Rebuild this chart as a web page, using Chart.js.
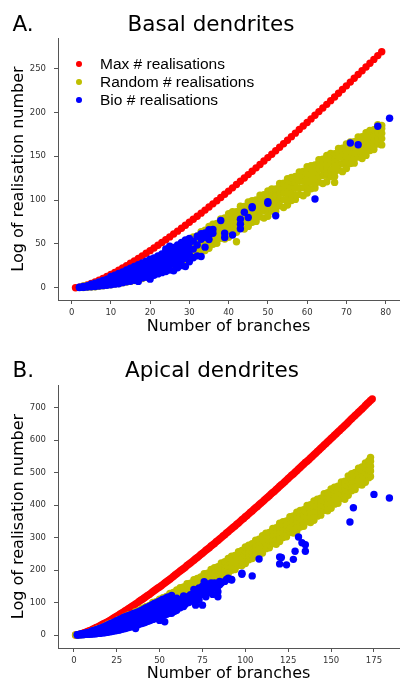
<!DOCTYPE html>
<html>
<head>
<meta charset="utf-8">
<title>Basal and apical dendrites</title>
<script src="https://cdn.jsdelivr.net/npm/chart.js@4.4.0/dist/chart.umd.min.js"></script>
<style>
  body { margin: 0; background: #fff; }
  #fig { position: relative; width: 403px; height: 683px; overflow: hidden; font-family: 'DejaVu Sans', sans-serif; }
  canvas { position: absolute; left: 0; }
  .panel-tag, .panel-title { position: absolute; font-size: 21.5px; line-height: 1; color: #000; white-space: nowrap; }
  .panel-title { transform: translateX(-50%); }
  #legend { position: absolute; left: 0; top: 55.4px; font-family: 'Liberation Sans', Arimo, 'DejaVu Sans', sans-serif; font-size: 15.5px; color: #000; }
  .leg-row { position: relative; height: 17.8px; line-height: 17.8px; padding-left: 100px; white-space: nowrap; }
  .leg-dot { position: absolute; left: 76.4px; top: 6px; width: 5.8px; height: 5.8px; border-radius: 50%; }
</style>
</head>
<body>
<div id="fig">
  <canvas id="basal" width="403" height="340" style="top:0"></canvas>
  <canvas id="apical" width="403" height="343" style="top:340px"></canvas>
  <div class="panel-tag" style="left:12.5px;top:12.5px;">A.</div>
  <div class="panel-title" style="left:211px;top:12.5px;">Basal dendrites</div>
  <div id="legend"></div>
  <div class="panel-tag" style="left:12.5px;top:359px;">B.</div>
  <div class="panel-title" style="left:212px;top:359px;">Apical dendrites</div>
</div>
<script>
/* ── Data ───────────────────────────────────────────────────── */

const seriesLabels = ['Max # realisations', 'Random # realisations', 'Bio # realisations'];
const seriesColors = ['#ff0000', '#bfbf00', '#0000ff'];

const basalXTicks = [0, 10, 20, 30, 40, 50, 60, 70, 80];
const basalYTicks = [0, 50, 100, 150, 200, 250];
const apicalXTicks = [0, 25, 50, 75, 100, 125, 150, 175];
const apicalYTicks = [0, 100, 200, 300, 400, 500, 600, 700];

// Max: one value per branch count, starting at 1 branch
const basalMax = [
    0, 0.7, 1.8, 3.2, 4.8, 6.6, 8.5, 10.6, 12.8, 15.1,
    17.5, 20.0, 22.6, 25.2, 27.9, 30.7, 33.5, 36.4, 39.3, 42.3,
    45.4, 48.5, 51.6, 54.8, 58.0, 61.3, 64.6, 67.9, 71.3, 74.7,
    78.1, 81.6, 85.1, 88.6, 92.1, 95.7, 99.3, 103.0, 106.6, 110.3,
    114.0, 117.8, 121.5, 125.3, 129.1, 133.0, 136.8, 140.7, 144.6, 148.5,
    152.4, 156.4, 160.3, 164.3, 168.3, 172.4, 176.4, 180.5, 184.5, 188.6,
    192.7, 196.9, 201.0, 205.2, 209.3, 213.5, 217.7, 222.0, 226.2, 230.4,
    234.7, 239.0, 243.3, 247.6, 251.9, 256.2, 260.6, 264.9, 269.3
];

// Random / Bio: [branches, value, value, ...]
const basalRandom = [
    [3, 0.3, 1.2, 2], [4, 0.5, 1.5, 2.6], [5, 0.8, 2.2, 3.6], [6, 1.2, 3, 4.8], [7, 1.6, 4.2, 6.2],
    [8, 2.2, 5, 7.6], [9, 3, 6.3, 9.2], [10, 3.4, 7.2, 10, 12.4], [11, 4.2, 8, 10.2, 13.4],
    [12, 4.8, 9.3, 11.6, 15], [13, 5.6, 10.2, 13, 16.4], [14, 6.4, 11.5, 14.3, 18.2],
    [15, 7.2, 12.4, 15.8, 20.1], [16, 8.3, 13.9, 17.2, 22], [17, 9.1, 15.2, 19.1, 23.8],
    [18, 10.4, 16.8, 20.7, 26.3], [19, 11.8, 18.7, 22.4, 28.1],
    [20, 14, 18, 22, 26, 30], [21, 17.2, 21.5, 25.7, 29.5, 32.1], [22, 17.5, 20.6, 25.1, 29.2, 33.2],
    [23, 21.7, 26.2, 30.7, 34.8, 37], [24, 20.5, 26.2, 31, 35.2, 38.1], [25, 22.5, 27.5, 32.5, 37.5, 42.5],
    [26, 27, 32, 37, 41.5, 44.5], [27, 27, 30.7, 36, 40.7, 45.4], [28, 31.8, 37.3, 42.8, 47.8, 50.5],
    [29, 31, 37.6, 43.1, 48.1, 51.4], [30, 32.5, 38.3, 44, 49.8, 55.5], [31, 37.8, 43.6, 49.3, 54.5, 57.9],
    [32, 38.1, 42.3, 48.3, 53.7, 59.1], [33, 43.6, 49.6, 55.6, 61, 64], [34, 42.5, 50, 56.3, 61.9, 65.6],
    [35, 45, 51.3, 57.5, 63.8, 70], [36, 49.6, 56.1, 62.6, 68.5, 72.4], [37, 50.7, 55.2, 61.7, 67.6, 73.4],
    [38, 56.4, 62.9, 69.4, 75.3, 78.5], [39, 55.5, 63.3, 69.8, 75.7, 79.6], [40, 57.5, 64.3, 71, 77.8, 84.5],
    [41, 63.2, 70, 76.7, 82.8, 86.8], [42, 52.5, 63.2, 67.9, 74.7, 80.7, 86.8], [43, 69.2, 76.2, 83.2, 89.5, 93],
    [44, 67, 75.4, 82.4, 88.7, 92.9], [45, 70, 77, 84, 91, 98], [46, 74.8, 81.8, 88.8, 95.1, 99.3],
    [47, 75.7, 80.6, 87.6, 93.9, 100.2], [48, 80.9, 88.1, 95.4, 101.9, 105.5], [49, 79.5, 88.2, 95.5, 102, 106.3],
    [50, 81.5, 88.8, 96, 103.3, 110.5], [51, 87.4, 94.7, 101.9, 108.4, 112.8], [52, 87.2, 92.3, 99.6, 106.1, 112.6],
    [53, 93.5, 101, 108.5, 115.3, 119], [54, 91.5, 100.5, 108, 114.8, 119.3], [55, 94.5, 102, 109.5, 117, 124.5],
    [56, 99.5, 107, 114.5, 121.3, 125.8], [57, 100.8, 106, 113.5, 120.3, 127], [58, 106.5, 114, 121.5, 128.3, 132],
    [59, 105, 114, 121.5, 128.3, 132.8], [60, 108, 115.5, 123, 130.5, 138], [61, 113, 120.5, 128, 134.8, 139.3],
    [62, 113.8, 119, 126.5, 133.3, 140], [63, 120.5, 128, 135.5, 142.3, 146], [64, 119, 128, 135.5, 142.3, 146.8],
    [65, 121, 128.5, 136, 143.5, 151], [66, 127, 134.5, 142, 148.8, 153.3], [67, 120.2, 126.8, 132, 139.5, 146.3, 153],
    [68, 134.4, 141.6, 148.9, 155.4, 159], [69, 132.5, 141.2, 148.5, 155, 159.3], [70, 136, 143, 150, 157, 164],
    [71, 141.8, 148.8, 155.8, 162.1, 166.3], [72, 142.2, 147.1, 154.1, 160.4, 166.7], [73, 149.1, 155.8, 162.6, 168.6, 172],
    [74, 147.5, 155.6, 162.4, 168.4, 172.5], [75, 151, 157.5, 164, 170.5, 177], [76, 156.6, 163.1, 169.6, 175.5, 179.4],
    [77, 157.7, 162.2, 168.7, 174.6, 180.4], [78, 163.9, 170.4, 176.9, 182.8, 186], [79, 163, 170.2, 176.2, 181.6, 185.2]
];

const basalBio = [
    [2, 0.2, 0.6], [3, 0.4, 1.1, 1.5], [4, 0.7, 1.6, 2.4], [5, 1, 2.1, 3.2, 4], [6, 1.4, 2.8, 4.1, 5.2],
    [7, 1.9, 3.6, 5.2, 6.6], [8, 2.4, 4.4, 6.1, 8.2], [9, 2.8, 5.2, 7.3, 9.6],
    [10, 3.3, 6.1, 8.6, 11.2, 12.8], [11, 4.1, 7.2, 9.8, 12.3, 14.4], [12, 4.6, 8.2, 11.3, 13.7, 16.2],
    [13, 5.8, 9.1, 12.4, 15.3, 18.1], [14, 6.7, 10.3, 13.8, 17.2, 20.3], [15, 7.4, 11.2, 15.1, 18.6, 22.4],
    [16, 8.6, 12.7, 16.6, 20.3, 24.2], [17, 7.2, 10.1, 14.2, 18.3, 22.1, 26.3], [18, 11.2, 15.3, 19.6, 24.2, 28.4],
    [19, 12.1, 16.7, 21.3, 26.1, 30.2], [20, 9.8, 13.2, 18.2, 23.1, 27.8, 32.6], [21, 14.3, 19.4, 24.2, 29.3, 34.1],
    [22, 15.8, 21.2, 26.3, 31.1, 36.4], [23, 17.2, 22.8, 28.1, 33.4, 38.6], [24, 18.4, 24.2, 30.3, 35.8, 41.7, 44.2],
    [25, 20.1, 26.3, 32.2, 38.1, 43.6, 47.3], [26, 19.4, 27.2, 33.8, 40.2, 45.9], [27, 22.8, 29.3, 35.6, 42.4, 48.7],
    [28, 25.2, 31.1, 38.2, 44.6, 51.8], [29, 24.1, 33.6, 40.7, 47.8, 54.6], [30, 29.6, 37.8, 44.7, 51.2, 56.3],
    [31, 34.2, 44.1, 53.2], [32, 36.4, 48.8, 58.7], [33, 35.6, 55.2, 61.8], [34, 46.3, 57.6, 62.4],
    [35, 55.1, 60.2, 66.3], [36, 62.2, 66.4], [38, 76.8], [39, 57.3, 62.1], [41, 60.2],
    [43, 67.2, 72.4, 78.1], [44, 86.2], [45, 80.1], [46, 91.2, 92.4], [50, 96.3, 98.1], [52, 82.2],
    [62, 101.2], [71, 165.1], [73, 163.2], [78, 184.3], [81, 193.4]
];

const apicalMax = [
    0, 1, 2, 3, 5, 7, 9, 11, 13, 15,
    18, 20, 23, 25, 28, 31, 34, 36, 39, 42,
    45, 48, 52, 55, 58, 61, 65, 68, 71, 75,
    78, 82, 85, 89, 92, 96, 99, 103, 107, 110,
    114, 118, 122, 125, 129, 133, 137, 141, 145, 148,
    152, 156, 160, 164, 168, 172, 176, 180, 185, 189,
    193, 197, 201, 205, 209, 214, 218, 222, 226, 230,
    235, 239, 243, 248, 252, 256, 261, 265, 269, 274,
    278, 282, 287, 291, 296, 300, 305, 309, 314, 318,
    323, 327, 332, 336, 341, 345, 350, 355, 359, 364,
    368, 373, 378, 382, 387, 392, 396, 401, 406, 410,
    415, 420, 424, 429, 434, 439, 443, 448, 453, 458,
    463, 467, 472, 477, 482, 487, 492, 496, 501, 506,
    511, 516, 521, 526, 531, 535, 540, 545, 550, 555,
    560, 565, 570, 575, 580, 585, 590, 595, 600, 605,
    610, 615, 620, 625, 630, 635, 640, 645, 650, 655,
    661, 666, 671, 676, 681, 686, 691, 696, 701, 707,
    712, 717, 722, 727
];

const apicalRandom = [
    [1, 0], [2, 0.3, 0.7], [3, 0.6, 1.4], [4, 0.8, 1.6, 2.6], [6, 1.6, 3.1, 4.4], [8, 2.6, 4.8, 7.2],
    [10, 3.8, 7.6, 10.8], [12, 5.2, 8.3, 11.6, 15.1], [14, 6.8, 11.2, 14.7, 19.3], [16, 9.2, 13.6, 18.4, 22.7],
    [18, 11.6, 17.3, 21.6, 27.4],
    [20, 15, 19.5, 24, 28.5, 33], [22, 19.5, 24.5, 29.5, 34, 37], [24, 22, 25.7, 31, 35.7, 40.4],
    [26, 28.3, 33.8, 39.3, 44.3, 47], [28, 29.5, 36.4, 42.2, 47.3, 50.8], [30, 33, 39, 45, 51, 57],
    [32, 38.6, 45.1, 51.6, 57.5, 61.4], [34, 39.7, 44.6, 51.6, 57.9, 64.2], [36, 47.4, 54.6, 61.9, 68.4, 72],
    [38, 48, 57, 64.5, 71.3, 75.8], [40, 51.5, 59.3, 67, 74.8, 82.5], [42, 59.2, 67.2, 75.2, 82.4, 87.2],
    [44, 61.4, 67.3, 75.8, 83.5, 91.1], [46, 70.3, 79, 87.8, 95.6, 100], [48, 69, 79.8, 88.8, 96.9, 102.3],
    [50, 74, 83, 92, 101, 110], [52, 82.2, 91.5, 100.7, 109, 114.6], [54, 85.5, 92.1, 101.6, 110.2, 118.7],
    [56, 94.9, 104.6, 114.4, 123.1, 128], [58, 94, 106, 116, 125, 131], [60, 99, 109, 119, 129, 139],
    [62, 109.6, 119.9, 130.1, 139.3, 145.5], [64, 111.1, 118.4, 128.9, 138.4, 147.8], [66, 122.3, 132.8, 143.3, 152.8, 158],
    [68, 121, 133.6, 144.1, 153.6, 159.9], [70, 127, 137.8, 148.5, 159.3, 170], [72, 136.8, 147.6, 158.3, 168, 174.4],
    [74, 140.1, 147.8, 158.8, 168.7, 178.6], [76, 151.1, 162.1, 173.1, 183, 188.5], [78, 150, 163.2, 174.2, 184.1, 190.7],
    [80, 156.5, 167.8, 179, 190.3, 201.5], [82, 166.6, 178.1, 189.6, 200, 206.9], [84, 170.2, 178.2, 189.7, 200.1, 210.4],
    [86, 181.6, 193.3, 205.1, 215.6, 221.5], [88, 181.5, 195.9, 207.9, 218.7, 225.9], [90, 187.5, 199.5, 211.5, 223.5, 235.5],
    [92, 199.4, 211.7, 223.9, 234.9, 242.3], [94, 201.7, 210.3, 222.6, 233.6, 244.6], [96, 214, 226.5, 239, 250.3, 256.5],
    [98, 214, 229, 241.5, 252.8, 260.3], [100, 220, 232.8, 245.5, 258.3, 271], [102, 231.6, 244.4, 257.1, 268.6, 276.2],
    [104, 235.3, 244.4, 257.4, 269.1, 280.8], [106, 247.8, 260.8, 273.8, 285.5, 292], [108, 246, 261.9, 275.2, 287.1, 295],
    [110, 252.5, 265.8, 279, 292.3, 305.5], [112, 265.9, 279.4, 292.9, 305.1, 313.2], [114, 268.4, 277.8, 291.3, 303.5, 315.6],
    [116, 281.3, 295, 308.8, 321.1, 328], [118, 279.5, 296, 309.8, 322.1, 330.4], [120, 288, 302, 316, 330, 344],
    [122, 300.1, 314.1, 328.1, 340.7, 349.1], [124, 302.4, 312.2, 326.2, 338.8, 351.4], [126, 316.1, 330.3, 344.6, 357.4, 364.5],
    [128, 314, 331.1, 345.4, 358.2, 366.7], [130, 320, 334.5, 349, 363.5, 378], [132, 332.8, 347.3, 361.8, 374.9, 383.6],
    [134, 335, 345.1, 359.6, 372.7, 385.7], [136, 348.9, 363.6, 378.4, 391.6, 399], [138, 346.5, 364.2, 379, 392.2, 401.1],
    [140, 353, 368, 383, 398, 413], [142, 366, 381, 396, 409.5, 418.5], [144, 369, 379.5, 394.5, 408, 421.5],
    [146, 384, 399, 414, 427.5, 435], [148, 382.5, 400.5, 415.5, 429, 438], [150, 390, 405, 420, 435, 450],
    [152, 403, 418, 433, 446.5, 455.5], [154, 405.5, 416, 431, 444.5, 458], [156, 420, 435, 450, 463.5, 471],
    [158, 418, 436, 451, 464.5, 473.5], [160, 430, 445, 460, 475, 490], [162, 444, 459, 474, 487.5, 496.5],
    [164, 448, 458.5, 473.5, 487, 500.5], [166, 463, 478, 493, 506.5, 514], [168, 462, 480, 495, 508.5, 517.5],
    [170, 470, 485, 500, 515, 530], [172, 484, 499, 514, 527.5, 536.5], [173, 488, 505, 520, 535, 547]
];

const apicalBio = [
    [2, 0.2, 0.8], [3, 0.5, 1.5], [4, 0.8, 2, 3], [5, 1, 2.5, 4], [6, 1.5, 3, 5], [7, 2, 4, 6],
    [8, 2, 4.5, 7], [9, 2.5, 5, 8], [10, 3, 6, 9, 11], [11, 3, 7, 10, 13], [12, 4, 8, 11, 14],
    [13, 4, 9, 13, 16], [14, 5, 10, 14, 18], [15, 5, 11, 15, 20], [16, 6, 12, 17, 22],
    [17, 7, 13, 19, 24], [18, 7, 14, 21, 26], [19, 8, 16, 22, 29], [20, 9, 17, 24, 32],
    [21, 10, 18, 26, 34], [22, 11, 20, 28, 36], [23, 12, 21, 30, 38], [24, 13, 22, 32, 41],
    [25, 14, 24, 34, 44], [26, 15, 26, 36, 46], [27, 16, 27, 38, 49], [28, 18, 29, 40, 51],
    [29, 19, 30, 42, 54], [30, 20, 32, 44, 56], [31, 22, 34, 46, 58], [32, 23, 35, 48, 60],
    [33, 25, 37, 50, 62], [34, 26, 39, 52, 64], [35, 28, 41, 54, 66], [36, 20, 30, 43, 56, 68],
    [37, 31, 45, 58, 70], [38, 33, 47, 60, 72], [39, 35, 49, 62, 75], [40, 36, 51, 64, 77],
    [41, 38, 53, 67, 80], [42, 40, 55, 69, 83], [43, 42, 57, 72, 86], [44, 44, 59, 74, 88],
    [45, 46, 61, 77, 91], [46, 48, 63, 79, 94], [47, 50, 66, 82, 97], [48, 52, 68, 84, 99],
    [49, 54, 70, 86, 102], [50, 45, 56, 72, 89, 104], [51, 58, 74, 91, 107], [52, 60, 77, 94, 110],
    [53, 41, 62, 79, 96], [54, 64, 81, 98, 115], [55, 66, 83, 101, 117], [56, 68, 86, 103],
    [57, 67, 88, 106, 122], [58, 72, 90, 108], [59, 74, 93, 111], [60, 76, 95, 113],
    [62, 84, 98, 108], [64, 88, 104, 120], [65, 95, 118], [67, 100, 113], [68, 105, 124],
    [70, 110, 128, 140], [71, 92, 118], [72, 120, 135], [73, 108, 145], [75, 92, 125, 150],
    [76, 140, 164], [77, 118, 150, 158], [78, 130, 155], [80, 140, 160], [81, 125, 150],
    [82, 145, 160], [84, 118, 133, 150], [85, 155, 165], [86, 160], [88, 165], [89, 171],
    [90, 175], [92, 169, 171], [98, 187, 190], [104, 182], [108, 234], [120, 219, 240],
    [121, 239], [124, 216], [128, 233], [129, 258], [131, 302], [133, 284], [135, 258, 278],
    [161, 348], [163, 392], [175, 433], [184, 422]
];

/* ── Helpers ────────────────────────────────────────────────── */

function maxPoints(values) {
    return values.map((y, i) => ({ x: i + 1, y: y }));
}

function rowPoints(rows) {
    const pts = [];
    rows.forEach(r => r.slice(1).forEach(y => pts.push({ x: r[0], y: y })));
    return pts;
}

function dataset(i, points, order) {
    return {
        label: seriesLabels[i],
        data: points,
        backgroundColor: seriesColors[i],
        borderWidth: 0,
        pointRadius: 3.7,
        order: order,
    };
}

Chart.defaults.font.family = "'DejaVu Sans', sans-serif";
Chart.defaults.color = '#333';

function axisBase(range, ticks) {
    return {
        type: 'linear',
        min: range[0],
        max: range[1],
        afterBuildTicks: a => { a.ticks = ticks.map(v => ({ value: v })); },
        grid: { drawOnChartArea: false, drawTicks: true, tickLength: 4, tickColor: '#555' },
        border: { display: true, color: '#555', width: 1 },
    };
}

function makeChart(id, cfg) {
    const x = axisBase(cfg.xRange, cfg.xTicks);
    x.position = 'bottom';
    x.afterFit = a => { a.height = cfg.xHeight; };
    x.ticks = { padding: 4, font: { size: 8.5 }, maxRotation: 0, autoSkip: false, callback: v => v };
    x.title = { display: true, text: 'Number of branches', color: '#000',
        font: { size: 16, lineHeight: 1 }, padding: { top: 0, bottom: cfg.xTitlePad } };

    const y = axisBase(cfg.yRange, cfg.yTicks);
    y.position = 'left';
    y.afterFit = a => { a.width = 58; };
    y.ticks = { padding: 8, font: { size: 8.5 }, autoSkip: false, callback: v => v };
    y.title = { display: true, text: 'Log of realisation number', color: '#000',
        font: { size: 16, lineHeight: 1 }, padding: { top: 11, bottom: 0 } };

    return new Chart(document.getElementById(id), {
        type: 'scatter',
        data: {
            datasets: [
                dataset(0, maxPoints(cfg.max), 3),
                dataset(1, rowPoints(cfg.random), 2),
                dataset(2, rowPoints(cfg.bio), 1),
            ]
        },
        options: {
            responsive: false,
            animation: false,
            devicePixelRatio: 1,
            events: [],
            layout: { padding: { top: cfg.top, right: 1, left: 0, bottom: 0 } },
            plugins: { legend: { display: false }, tooltip: { enabled: false } },
            scales: { x: x, y: y }
        }
    });
}

/* ── Panels ─────────────────────────────────────────────────── */

makeChart('basal', {
    max: basalMax, random: basalRandom, bio: basalBio,
    xTicks: basalXTicks, yTicks: basalYTicks,
    xRange: [-3.46, 83.4], yRange: [-14, 285],
    top: 38, xHeight: 40, xTitlePad: 5,
});

makeChart('apical', {
    max: apicalMax, random: apicalRandom, bio: apicalBio,
    xTicks: apicalXTicks, yTicks: apicalYTicks,
    xRange: [-9.25, 189.6], yRange: [-40, 769.8],
    top: 45, xHeight: 35, xTitlePad: 0.7,
});

/* ── Legend (panel A only) ──────────────────────────────────── */

document.getElementById('legend').innerHTML = seriesLabels.map((label, i) =>
    '<div class="leg-row"><span class="leg-dot" style="background:' + seriesColors[i] + '"></span>' + label + '</div>'
).join('');
</script>
</body>
</html>
